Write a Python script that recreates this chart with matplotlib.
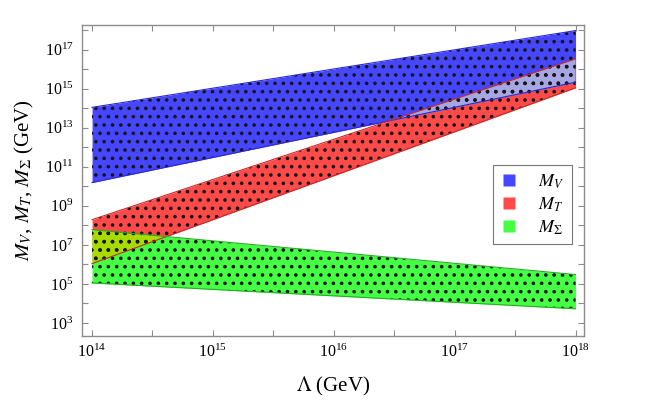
import numpy as np
import matplotlib
matplotlib.use("Agg")
import matplotlib.pyplot as plt
from matplotlib.ticker import FixedLocator, LogFormatterMathtext, NullFormatter
from matplotlib.lines import Line2D

plt.rcParams['font.family'] = 'serif'
plt.rcParams['font.serif'] = ['Liberation Serif', 'DejaVu Serif']
plt.rcParams['mathtext.fontset'] = 'stix'
plt.rcParams['hatch.linewidth'] = 1.4

# band edges, Lambda in GeV
lam = [1e14, 1e18]
mv_low = [10**10.19, 10**15.33]
mv_high = [10**14.04, 10**17.97]
mt_low = [10**6.04, 10**15.04]
mt_high = [10**8.29, 10**16.52]
ms_low = [10**5.05, 10**3.73]
ms_high = [10**7.78, 10**5.48]

blue = '#4646ff'
red = '#ff4a4a'
green = '#44ff44'
lavender = '#a6a6e2'
olive = '#a8dc00'

fig = plt.figure(figsize=(6.54, 4.09), dpi=100)
ax = fig.add_axes([0.1254, 0.1797, 0.7676, 0.7603])
ax.set_xscale('log')
ax.set_yscale('log')

red_band = ax.fill_between(lam, mt_low, mt_high, color=red, lw=0, zorder=2)
blue_band = ax.fill_between(lam, mv_low, mv_high, color=blue, lw=0, zorder=2)
green_band = ax.fill_between(lam, ms_low, ms_high, color=green, lw=0, zorder=2)

red_path = red_band.get_paths()[0]

# overlaps
ov1 = ax.fill_between(lam, mv_low, mv_high, color=lavender, lw=0, zorder=3)
ov1.set_clip_path(red_path, ax.transData)
ov2 = ax.fill_between(lam, ms_low, ms_high, color=olive, lw=0, zorder=3)
ov2.set_clip_path(red_path, ax.transData)

# dotted texture of the scan
for lo, hi in [(mv_low, mv_high), (mt_low, mt_high), (ms_low, ms_high)]:
    ax.fill_between(lam, lo, hi, facecolor='none', edgecolor='#151515',
                    hatch='..', lw=0, zorder=4)

# band edges
ax.plot(lam, mv_high, color='#2a2ad0', lw=0.8, zorder=5)
ax.plot(lam, mv_low, color='#2a2ad0', lw=0.8, zorder=5)
ax.plot(lam, mt_high, color='#c82a2a', lw=0.8, zorder=5)
ax.plot(lam, mt_low, color='#c82a2a', lw=0.8, zorder=5)
ax.plot(lam, ms_high, color='#22b022', lw=0.8, zorder=5)
ax.plot(lam, ms_low, color='#22b022', lw=0.8, zorder=5)

ax.set_xlim(10**13.917, 10**18.07)
ax.set_ylim(10**2.36, 10**18.28)

ax.xaxis.set_major_locator(FixedLocator([10.0**e for e in range(14, 19)]))
ax.xaxis.set_minor_locator(FixedLocator([10.0**(e + 0.5) for e in range(14, 18)]))
ax.yaxis.set_major_locator(FixedLocator([10.0**e for e in range(3, 18, 2)]))
ax.yaxis.set_minor_locator(FixedLocator([10.0**e for e in range(4, 19, 2)]))
ax.xaxis.set_major_formatter(LogFormatterMathtext())
ax.yaxis.set_major_formatter(LogFormatterMathtext())
ax.xaxis.set_minor_formatter(NullFormatter())
ax.yaxis.set_minor_formatter(NullFormatter())

for s in ax.spines.values():
    s.set_color('#8c8c8c')
    s.set_linewidth(1.0)
ax.tick_params(which='both', direction='in', top=True, right=True,
               length=4, width=0.8, color='#8c8c8c', labelsize=11.5, pad=6)

ax.set_xlabel(r'$\Lambda$ (GeV)', fontsize=15, labelpad=10)
ax.set_ylabel(r'$M_V$, $M_T$, $M_\Sigma$ (GeV)', fontsize=15, labelpad=6)

handles = [Line2D([], [], ls='none', marker='s', ms=8, mec='none', mfc=c)
           for c in (blue, red, green)]
leg = ax.legend(handles, [r'$M_V$', r'$M_T$', r'$M_\Sigma$'],
                loc='upper left', bbox_to_anchor=(0.819, 0.548),
                fontsize=13, frameon=True, fancybox=False, framealpha=1,
                edgecolor='#777777', handlelength=1.0, handletextpad=1.1,
                labelspacing=0.25, borderpad=0.4, borderaxespad=0)
leg.get_frame().set_linewidth(0.8)
leg.set_zorder(10)

fig.savefig('out.png', dpi=100)
